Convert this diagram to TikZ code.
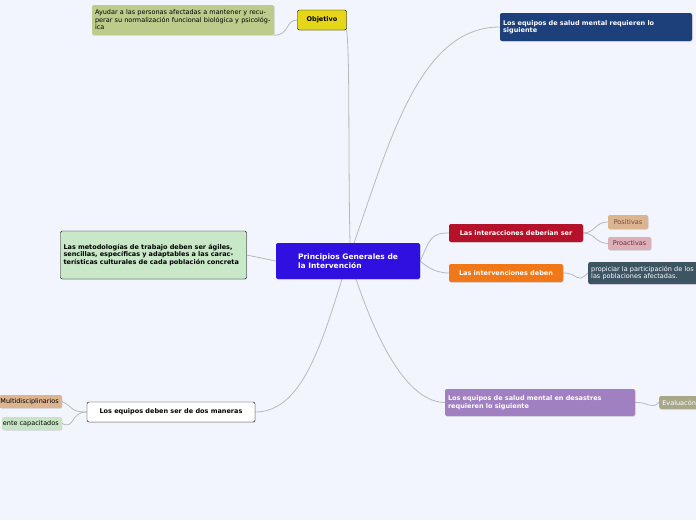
\documentclass[tikz,border=0pt]{standalone}
\usepackage{fontspec}
\setmainfont{DejaVu Sans}
\usetikzlibrary{backgrounds,shadows}
\begin{document}
\begin{tikzpicture}[x=1pt,y=-1pt,
  bx/.style={rounded corners=2pt,inner sep=3pt,font=\fontsize{6.5}{7.5}\selectfont,align=left,drop shadow={opacity=0.3,shadow xshift=0.6pt,shadow yshift=-0.6pt}},
  con/.style={draw=gray!55,line width=0.8pt}]
\useasboundingbox (0,0) rectangle (696,520);
\node[bx,fill={rgb,255:red,47;green,16;blue,224},text=white,font=\fontsize{7.5}{8.5}\selectfont\bfseries,minimum width=144pt,minimum height=36pt] (c) at (348,261) {Principios Generales de\\la Intervención};
\node[bx,fill={rgb,255:red,230;green,214;blue,25},draw=black,font=\fontsize{6.5}{7.5}\selectfont\bfseries,minimum width=49pt,minimum height=20pt,align=center] (o) at (322,20) {Objetivo};
\node[bx,fill={rgb,255:red,188;green,204;blue,138},text width=176pt,minimum height=30pt] (a) at (183,20) {Ayudar a las personas afectadas a mantener y recuperar su normalización funcional biológica y psicológica};
\node[bx,fill={rgb,255:red,29;green,63;blue,122},text=white,font=\fontsize{6.5}{7.5}\selectfont\bfseries,text width=186pt,minimum height=28pt] (e1) at (596,27) {Los equipos de salud mental requieren lo\\siguiente};
\node[bx,fill={rgb,255:red,181;green,17;blue,42},text=white,font=\fontsize{6.5}{7.5}\selectfont\bfseries,minimum width=134pt,minimum height=18pt] (i) at (516,233) {Las interacciones deberían ser};
\node[bx,fill={rgb,255:red,220;green,180;blue,144},text={rgb,255:red,110;green,80;blue,60},minimum width=40pt,minimum height=14pt,inner sep=1pt,align=center] (p) at (628,222) {Positivas};
\node[bx,fill={rgb,255:red,220;green,176;blue,184},text={rgb,255:red,120;green,40;blue,60},minimum width=43pt,minimum height=13pt,inner sep=1pt,align=center] (pr) at (629.5,243.5) {Proactivas};
\node[bx,fill={rgb,255:red,240;green,120;blue,24},text=white,font=\fontsize{6.5}{7.5}\selectfont\bfseries,minimum width=114pt,minimum height=18pt] (iv) at (506,273) {Las intervenciones deben};
\node[bx,fill={rgb,255:red,61;green,85;blue,99},text=white,anchor=west,minimum height=22pt,text width=130pt] (pp) at (588,273) {propiciar la participación de los\\las poblaciones afectadas.};
\node[bx,fill={rgb,255:red,160;green,128;blue,192},text=white,font=\fontsize{6.5}{7.5}\selectfont\bfseries,text width=184pt,minimum height=27pt] (d) at (540,402.5) {Los equipos de salud mental en desastres\\requieren lo siguiente};
\node[bx,fill={rgb,255:red,168;green,168;blue,136},text=white,anchor=west,minimum height=13pt,inner sep=1pt,text width=50pt] (ev) at (659,402.5) {~Evaluacón};
\node[bx,fill={rgb,255:red,200;green,232;blue,200},draw=black,font=\fontsize{6.5}{7.5}\selectfont\bfseries,text width=180pt,minimum height=48pt] (m) at (153.5,255) {Las metodologías de trabajo deben ser ágiles, sencillas, específicas y adaptables a las características culturales de cada población concreta};
\node[bx,fill=white,draw=black,font=\fontsize{6.5}{7.5}\selectfont\bfseries,minimum width=168pt,minimum height=20pt,align=center] (eq) at (171,412) {Los equipos deben ser de dos maneras};
\node[bx,fill={rgb,255:red,220;green,180;blue,144},anchor=east,minimum height=13pt,inner sep=1pt] (mu) at (62,401.5) {Multidisciplinarios~};
\node[bx,fill={rgb,255:red,200;green,228;blue,196},anchor=east,minimum height=13pt,inner sep=1pt] (ca) at (62,423.5) {ente capacitados~};
\begin{scope}[on background layer]
\fill[fill={rgb,255:red,242;green,245;blue,253}] (0,0) rectangle (696,520);
\draw[con] (350,243) .. controls (348,150) and (350,60) .. (o.south east);
\draw[con] (o.west) .. controls (285,20) and (290,35) .. (a.south east);
\draw[con] (354,243) .. controls (390,140) and (420,27) .. (e1.west);
\draw[con] (c.east) .. controls (430,240) and (430,233) .. (i.west);
\draw[con] (i.east) .. controls (595,233) and (595,222) .. (p.west);
\draw[con] (i.east) .. controls (595,233) and (595,243) .. (pr.west);
\draw[con] (c.east) .. controls (430,270) and (440,273) .. (iv.west);
\draw[con] (iv.east) .. controls (580,273) and (575,285) .. (pp.west);
\draw[con] (356,279) .. controls (380,350) and (410,402) .. (d.west);
\draw[con] (d.east) .. controls (650,402) and (650,410) .. (ev.west);
\draw[con] (c.west) -- (m.east);
\draw[con] (342,279) .. controls (320,350) and (300,412) .. (eq.east);
\draw[con] (eq.west) .. controls (70,412) and (75,408) .. (mu.east);
\draw[con] (eq.west) .. controls (70,412) and (75,430) .. (ca.east);
\end{scope}
\end{tikzpicture}
\end{document}
